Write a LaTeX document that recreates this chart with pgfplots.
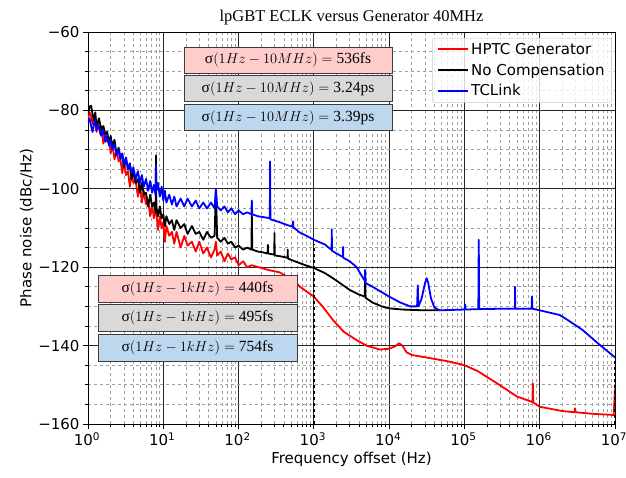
\documentclass[border=0pt]{standalone}
\usepackage{fontspec}
\setmainfont{DejaVu Sans}
\newfontfamily\boxfont{Liberation Serif}
\usepackage{pgfplots}
\pgfplotsset{compat=1.18}

\definecolor{boxred}{RGB}{255,204,204}
\definecolor{boxgray}{RGB}{217,217,217}
\definecolor{boxblue}{RGB}{189,215,238}
\definecolor{boxedge}{RGB}{60,60,60}

% sigma label: upper limit, value
\newcommand\sig[2]{{\boxfont σ}$(1Hz-#1)={}${\boxfont #2}}

\begin{document}
\begin{tikzpicture}[font=\fontsize{15bp}{18bp}\selectfont]
\useasboundingbox (-88bp,-54bp) rectangle (538bp,424bp);
\begin{axis}[
  at={(0,0)}, anchor=south west,
  scale only axis, width=527bp, height=392bp,
  xmode=log, log basis x=10,
  xmin=1, xmax=1e7, ymin=-160, ymax=-60,
  xtick={1,10,100,1000,1e4,1e5,1e6,1e7},
  xticklabels={10\textsuperscript{0},10\textsuperscript{1},10\textsuperscript{2},10\textsuperscript{3},10\textsuperscript{4},10\textsuperscript{5},10\textsuperscript{6},10\textsuperscript{7}},
  minor xtick={2,3,4,5,6,7,8,9,
    20,30,40,50,60,70,80,90,
    200,300,400,500,600,700,800,900,
    2000,3000,4000,5000,6000,7000,8000,9000,
    20000,30000,40000,50000,60000,70000,80000,90000,
    200000,300000,400000,500000,600000,700000,800000,900000,
    2000000,3000000,4000000,5000000,6000000,7000000,8000000,9000000},
  ytick={-160,-140,-120,-100,-80,-60},
  yticklabels={−160,−140,−120,−100,−80,−60},
  minor ytick={-155,-150,-145,-135,-130,-125,-115,-110,-105,-95,-90,-85,-75,-70,-65},
  grid=both,
  major grid style={black!85, line width=0.8bp},
  minor grid style={gray!75, dashed, line width=0.7bp},
  axis line style={black, line width=0.9bp},
  tick align=outside, xtick pos=bottom, ytick pos=left,
  major tick length=5bp, minor tick length=3bp,
  tick style={black, line width=0.8bp},
  tick label style={font=\fontsize{15bp}{18bp}\selectfont},
  xticklabel style={xshift=-1bp},
  label style={font=\fontsize{15bp}{18bp}\selectfont},
  ylabel style={yshift=-2bp},
  xlabel={Frequency offset (Hz)},
  ylabel={Phase noise (dBc/Hz)},
  title={lpGBT ECLK versus Generator 40MHz},
  title style={font=\boxfont\fontsize{16.5bp}{18bp}\selectfont, yshift=-3bp},
  legend cell align=left,
  legend style={at={(0.994,0.985)}, anchor=north east,
    font=\fontsize{15bp}{18bp}\selectfont,
    fill=white, fill opacity=0.8, text opacity=1,
    draw=gray!40, rounded corners=2bp, inner xsep=5bp, inner ysep=3bp,
    row sep=4bp},
  legend image code/.code={\draw[#1, line width=1.8bp] (0bp,0bp) -- (30bp,0bp);},
  every axis plot/.append style={line width=1.8bp, line join=round},
]

% HPTC Generator
\addplot[color=red] coordinates {
(1,-82)(1.05,-80.5)(1.1,-81.5)(1.15,-83.5)(1.2,-82)(1.3,-85.5)(1.35,-83)(1.45,-86)
(1.5,-84)(1.6,-88.5)(1.7,-86)(1.8,-88)(1.9,-87)(2,-91)(2.1,-88.5)(2.25,-92.5)
(2.4,-90)(2.55,-93)(2.7,-92.5)(2.85,-96)(3,-93)(3.2,-96.5)(3.4,-95.5)(3.6,-99.5)
(3.8,-96)(4,-98.5)(4.3,-98)(4.6,-102)(4.9,-99)(5.2,-103.5)(5.5,-100.5)(5.9,-104)
(6.3,-103)(6.7,-107)(7.1,-104)(7.5,-107.5)(8,-105)(8.5,-110.5)(9,-107)(9.5,-110)
(10,-108.5)(10.5,-113.5)(11,-109.5)(12,-112)(13,-111)(14,-114)(15,-111)(17,-115)
(19,-112)(21,-114.5)(24,-113.5)(27,-116)(30,-113.5)(34,-116.5)(38,-115)(43,-117.5)
(48,-115.5)(50,-113.5)(52,-117)(58,-116)(65,-118.5)(72,-116.5)(80,-118)(90,-117.5)
(100,-119.5)(115,-118.5)(130,-120)(150,-119.5)(200,-120.2)(260,-120.8)(350,-121.3)
(450,-122.5)(550,-123.5)(655,-125)(800,-126.2)(1000,-127.5)(1300,-130)(1800,-133.5)
(2500,-136.5)(3700,-138.6)(5000,-140)(7500,-141)(10000,-140.8)(12000,-140.2)
(13500,-139.4)(15000,-140)(17000,-141.7)(20000,-142.4)(35000,-143.2)(60000,-144)
(100000,-145)(150000,-146.5)(270000,-149.6)(500000,-153)(800000,-154.4)(810000,-149.6)
(820000,-154.5)(1e6,-155.6)(2e6,-156.7)(2.9e6,-157)(2.95e6,-156)(3e6,-157)(5e6,-157.4)
(9.6e6,-157.7)(1e7,-151)
};
\addlegendentry{HPTC Generator}

% No Compensation
\addplot[color=black] coordinates {
(1,-81)(1.05,-79)(1.1,-78.8)(1.15,-81)(1.2,-82.5)(1.25,-80.5)(1.3,-84)(1.4,-82)
(1.5,-85)(1.6,-84)(1.7,-86)(1.8,-85.5)(1.9,-88.5)(2,-86.5)(2.1,-89)(2.25,-87.5)
(2.4,-91.5)(2.55,-89.5)(2.7,-92)(2.85,-91)(3,-94.5)(3.2,-92.5)(3.4,-95)(3.6,-94.5)
(3.8,-97.5)(4,-95.5)(4.3,-98.5)(4.6,-97.5)(4.9,-101)(5.2,-98.5)(5.5,-101.5)(5.9,-101)
(6.3,-104.5)(6.7,-101.5)(7.1,-104.5)(7.5,-103.5)(7.9,-106)(8,-91.5)(8.1,-104.5)(8.5,-107)
(9,-104.5)(9.5,-107.5)(10,-106.5)(10.5,-109.5)(11,-107)(12,-109)(13,-108)(14,-110.5)
(15,-108)(17,-110)(19,-109)(21,-111.5)(24,-109.5)(27,-111.5)(30,-111)(34,-113)
(38,-111)(43,-112.5)(48,-112)(50,-100.4)(52,-112.5)(58,-113.5)(65,-112.5)(72,-114)
(80,-113.5)(90,-115)(100,-114.5)(115,-115.5)(130,-115)(148,-115.5)(150,-106.7)
(152,-115.5)(180,-116)(210,-116.2)(243,-116.5)(245,-114.3)(247,-116.5)(298,-116.8)
(300,-111.3)(302,-117)(380,-117.3)(448,-117.6)(450,-115.5)(452,-117.8)(560,-118.5)
(655,-119)(800,-119.6)(1000,-120.2)(1400,-121.5)(1790,-122.8)(2200,-124)(3000,-125.8)
(4000,-127)(4750,-127.5)(4800,-121)(4850,-127.8)(6000,-129)(8000,-130)(10000,-130.5)
(15000,-130.8)(20000,-130.9)(30000,-131)(47000,-131)
};
\addlegendentry{No Compensation}

% TCLink
\addplot[color=blue] coordinates {
(1,-83)(1.05,-82)(1.1,-84)(1.15,-85.5)(1.2,-83.5)(1.25,-82.5)(1.3,-85)(1.4,-84)
(1.5,-86.5)(1.6,-85)(1.7,-88)(1.8,-86.5)(1.9,-89)(2,-87.5)(2.1,-90)(2.25,-88.5)
(2.4,-91.5)(2.55,-90)(2.7,-92.5)(2.85,-91)(3,-94)(3.2,-92)(3.4,-95)(3.6,-93.5)
(3.8,-96)(4,-94.5)(4.3,-97.5)(4.6,-95.5)(4.9,-98.5)(5.2,-96.5)(5.5,-99.5)(5.9,-97.5)
(6.3,-100.5)(6.7,-98)(7.1,-101)(7.5,-99)(7.9,-101.5)(8,-94)(8.1,-100.5)(8.5,-98.5)
(9,-102)(9.5,-99.5)(10,-103)(10.5,-100.5)(11,-103.5)(12,-101.5)(13,-104)(14,-102)
(15,-104.5)(17,-102.5)(19,-104.5)(21,-102.5)(24,-104.5)(27,-103)(30,-105)(34,-103.5)
(38,-105)(43,-103.5)(48,-105)(50,-100)(52,-104.5)(58,-105.5)(65,-104.5)(72,-106)
(80,-105)(90,-106.5)(100,-105.5)(115,-106.5)(130,-106)(148,-106.5)(150,-103)
(152,-106.5)(180,-107)(210,-107.2)(260,-107.5)(262,-93)(265,-107.8)(350,-108.5)
(450,-109.3)(528,-109.7)(530,-108.3)(533,-109.8)(655,-111.2)(800,-112)(1000,-113)
(1400,-114.2)(1720,-115.6)(1730,-110.3)(1740,-115.8)(2000,-116.5)(2440,-117.4)
(2450,-114.8)(2460,-117.6)(3000,-118.5)(3700,-120)(4750,-123.5)(4800,-120.7)
(4850,-124)(6000,-125)(8200,-126.5)(10000,-127.5)(14000,-129)(19000,-130)(23500,-130)
(24000,-124.6)(24500,-130)(27000,-128)(30000,-124)(31600,-122.8)(33000,-124)
(36000,-128)(40000,-130.3)(47000,-131)(100000,-130.8)(102000,-129.5)(104000,-130.8)
(153000,-130.7)(155000,-113)(157000,-130.7)(300000,-130.6)(468000,-130.6)
(470000,-125)(472000,-130.6)(780000,-130.6)(790000,-127.5)(800000,-130.6)(1e6,-131)
(1.85e6,-132.2)(2.5e6,-133.8)(3.7e6,-136)(6e6,-139.5)(1e7,-143)
};
\addlegendentry{TCLink}

% integration limits
\addplot[black, dashed, line width=1.3bp, forget plot] coordinates {(1000,-160)(1000,-114)};
\addplot[black, dashed, line width=1.3bp, forget plot] coordinates {(1e7,-160)(1e7,-143)};

% jitter boxes
\begin{scope}[every node/.style={draw=boxedge, line width=0.8bp, inner sep=0pt,
    font=\fontsize{15.5bp}{18bp}\selectfont}]
\node[fill=boxred,  minimum width=208bp, minimum height=26bp] at (rel axis cs:0.3795,0.9286) {\sig{10MHz}{536fs}};
\node[fill=boxgray, minimum width=208bp, minimum height=26bp] at (rel axis cs:0.3795,0.8559) {\sig{10MHz}{3.24ps}};
\node[fill=boxblue, minimum width=208bp, minimum height=26bp] at (rel axis cs:0.3795,0.7819) {\sig{10MHz}{3.39ps}};
\node[fill=boxred,  minimum width=199bp, minimum height=27bp] at (rel axis cs:0.2078,0.3444) {\sig{1kHz}{440fs}};
\node[fill=boxgray, minimum width=199bp, minimum height=27bp] at (rel axis cs:0.2078,0.2704) {\sig{1kHz}{495fs}};
\node[fill=boxblue, minimum width=199bp, minimum height=27bp] at (rel axis cs:0.2078,0.1939) {\sig{1kHz}{754fs}};
\end{scope}
\end{axis}
\end{tikzpicture}
\end{document}
